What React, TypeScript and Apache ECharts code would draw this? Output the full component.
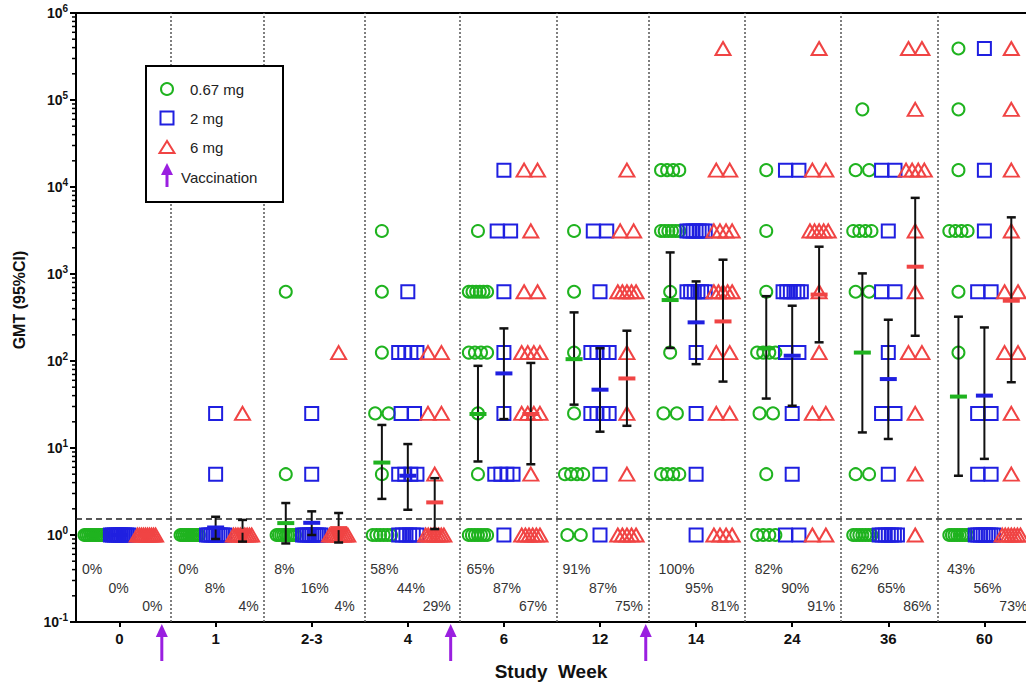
import React, { useEffect, useRef } from 'react';
import * as echarts from 'echarts';

// ---------- data ----------
const weeks = ['0', '1', '2-3', '4', '6', '12', '14', '24', '36', '60'];
const titerLevels = [1, 5, 25, 125, 625, 3125, 15625, 78125, 390625];
const doses = ['0.67 mg', '2 mg', '6 mg'];

// number of subjects at each titer level (order of titerLevels), per week
const countsLow = [
  [10, 0, 0, 0, 0, 0, 0, 0, 0],
  [10, 0, 0, 0, 0, 0, 0, 0, 0],
  [9, 1, 0, 0, 1, 0, 0, 0, 0],
  [6, 1, 2, 1, 1, 1, 0, 0, 0],
  [7, 1, 1, 4, 6, 1, 0, 0, 0],
  [2, 4, 1, 1, 1, 1, 0, 0, 0],
  [0, 4, 2, 1, 1, 6, 4, 0, 0],
  [4, 1, 2, 4, 1, 1, 1, 0, 0],
  [7, 2, 0, 0, 2, 4, 2, 1, 0],
  [8, 0, 0, 1, 1, 4, 1, 1, 1],
];
const countsMid = [
  [10, 0, 0, 0, 0, 0, 0, 0, 0],
  [9, 1, 1, 0, 0, 0, 0, 0, 0],
  [9, 1, 1, 0, 0, 0, 0, 0, 0],
  [6, 4, 2, 4, 1, 0, 0, 0, 0],
  [1, 4, 1, 1, 1, 2, 1, 0, 0],
  [1, 1, 4, 4, 1, 2, 0, 0, 0],
  [1, 1, 1, 1, 6, 7, 0, 0, 0],
  [2, 1, 1, 2, 6, 0, 2, 0, 0],
  [7, 1, 2, 1, 2, 1, 2, 0, 0],
  [8, 2, 2, 0, 2, 1, 1, 0, 1],
];
const countsHigh = [
  [10, 0, 0, 0, 0, 0, 0, 0, 0],
  [9, 0, 1, 0, 0, 0, 0, 0, 0],
  [9, 0, 0, 1, 0, 0, 0, 0, 0],
  [8, 1, 2, 2, 0, 0, 0, 0, 0],
  [6, 1, 4, 4, 2, 1, 2, 0, 0],
  [5, 1, 1, 1, 5, 2, 1, 0, 0],
  [4, 0, 2, 2, 5, 4, 2, 0, 1],
  [2, 0, 2, 1, 1, 5, 2, 0, 1],
  [1, 1, 1, 2, 1, 1, 4, 1, 2],
  [7, 1, 1, 2, 2, 1, 1, 1, 1],
];

// GMT and 95% CI
const gmtLow = [1, 1, 1.37, 6.8, 24.6, 105, 502, 140, 125, 39];
const ciLowLo = [1, 1, 0.8, 2.6, 7.0, 31.5, 141, 37, 15.1, 4.8];
const ciLowHi = [1, 1, 2.33, 18.4, 88, 362, 1770, 556, 1016, 323];
const gmtMid = [1, 1.22, 1.38, 4.8, 72, 46.8, 278, 115, 62, 40];
const ciMidLo = [1, 0.9, 1.0, 1.95, 21.5, 15.4, 92, 30.6, 12.7, 7.5];
const ciMidHi = [1, 1.62, 1.87, 11.1, 237, 140, 822, 432, 298, 243];
const gmtHigh = [1, 1.12, 1.2, 2.37, 24.6, 63, 285, 580, 1213, 493];
const ciHighLo = [1, 0.84, 0.82, 1.17, 6.5, 18, 58, 164, 195, 57];
const ciHighHi = [1, 1.49, 1.79, 4.5, 95, 223, 1460, 2060, 7500, 4480];

// responder percentages
const pctLow = ['0%', '0%', '8%', '58%', '65%', '91%', '100%', '82%', '62%', '43%'];
const pctMid = ['0%', '8%', '16%', '44%', '87%', '87%', '95%', '90%', '65%', '56%'];
const pctHigh = ['0%', '4%', '4%', '29%', '67%', '75%', '81%', '91%', '86%', '73%'];

const lloq = 1.54;
const vaccinationAt = [0.44, 3.446, 5.476];
const separators = [0.525, 1.504, 2.549, 3.536, 4.553, 5.51, 6.509, 7.508, 8.514];

// ---------- styling / layout ----------
const colors = ['#1fb31f', '#1f1fe0', '#f04444'];
const purple = '#9a1fe0';
const FONT = '"Liberation Sans", Arial, Helvetica, sans-serif';
const X_MIN = -0.453;
const X_MAX = 9.433;
const Y_MIN = 0.1;
const Y_MAX = 1e6;
const groupOffset = [-0.27, 0, 0.28];

function buildPoints(counts: number[][], g: number) {
  const pts: number[][] = [];
  counts.forEach((row, wi) => {
    row.forEach((n, li) => {
      if (!n) return;
      const range = Math.min((n - 1) * 0.14, 0.19);
      for (let i = 0; i < n; i++) {
        const off = n > 1 ? -range / 2 + (i * range) / (n - 1) : 0;
        pts.push([wi + groupOffset[g] + off, titerLevels[li]]);
      }
    });
  });
  return pts;
}

export default function App() {
  const ref = useRef<HTMLDivElement>(null);
  useEffect(() => {
    const chart = echarts.init(ref.current!, undefined, { renderer: 'svg' });

    const countsAll = [countsLow, countsMid, countsHigh];
    const gmts = [gmtLow, gmtMid, gmtHigh];
    const los = [ciLowLo, ciMidLo, ciHighLo];
    const his = [ciLowHi, ciMidHi, ciHighHi];
    const pcts = [pctLow, pctMid, pctHigh];
    const symbols = ['circle', 'rect', 'triangle'];
    const sizes: any[] = [12, 13, [15, 13]];

    const scatterSeries = countsAll.map((c, g) => ({
      type: 'scatter',
      name: doses[g],
      data: buildPoints(c, g),
      symbol: symbols[g],
      symbolSize: sizes[g],
      itemStyle: { color: 'rgba(0,0,0,0)', borderColor: colors[g], borderWidth: 2, opacity: 1 },
      silent: true,
      z: 3,
    }));

    const errSeries = gmts.map((_, g) => ({
      type: 'custom',
      data: weeks
        .map((_w, wi) => [wi + groupOffset[g], los[g][wi], his[g][wi]])
        .filter((d) => d[2] > d[1]),
      encode: { x: 0, y: [1, 2] },
      silent: true,
      clip: false,
      z: 5,
      renderItem: (params: any, api: any) => {
        const x = api.value(0);
        const pLo = api.coord([x, api.value(1)]);
        const pHi = api.coord([x, api.value(2)]);
        const st = { stroke: '#111', lineWidth: 2 };
        const cw = 4.5;
        return {
          type: 'group',
          children: [
            { type: 'line', shape: { x1: pLo[0], y1: pLo[1], x2: pHi[0], y2: pHi[1] }, style: st },
            { type: 'line', shape: { x1: pLo[0] - cw, y1: pLo[1], x2: pLo[0] + cw, y2: pLo[1] }, style: { ...st, lineWidth: 2.5 } },
            { type: 'line', shape: { x1: pHi[0] - cw, y1: pHi[1], x2: pHi[0] + cw, y2: pHi[1] }, style: { ...st, lineWidth: 2.5 } },
          ],
        };
      },
    }));

    const gmtSeries = gmts.map((arr, g) => ({
      type: 'custom',
      data: arr.map((v, wi) => [wi + groupOffset[g], v]),
      encode: { x: 0, y: 1 },
      silent: true,
      clip: false,
      z: 6,
      renderItem: (params: any, api: any) => {
        const p = api.coord([api.value(0), api.value(1)]);
        return { type: 'rect', shape: { x: p[0] - 8.5, y: p[1] - 2, width: 17, height: 4 }, style: { fill: colors[g] } };
      },
    }));

    const pctPlace = [
      { dx: -37.5, dy: 52.7, align: 'left' },
      { dx: -11, dy: 34.5, align: 'left' },
      { dx: 43, dy: 15.7, align: 'right' },
    ];
    const pctSeries = pcts.map((arr, g) => ({
      type: 'custom',
      data: arr.map((_t, wi) => [wi, Y_MIN]),
      encode: { x: 0, y: 1 },
      silent: true,
      clip: false,
      z: 4,
      renderItem: (params: any, api: any) => {
        const p = api.coord([api.value(0), api.value(1)]);
        return {
          type: 'text',
          x: p[0] + pctPlace[g].dx,
          y: p[1] - pctPlace[g].dy,
          style: {
            text: arr[params.dataIndex],
            fill: '#333',
            fontSize: 14,
            fontFamily: FONT,
            align: pctPlace[g].align,
            verticalAlign: 'middle',
          },
        };
      },
    }));

    const minorVals: number[] = [];
    for (let k = -1; k < 6; k++) for (let m = 2; m <= 9; m++) minorVals.push(m * Math.pow(10, k));
    const minorTickSeries = {
      type: 'custom',
      data: minorVals.map((v) => [X_MIN, v]),
      encode: { x: 0, y: 1 },
      silent: true,
      clip: false,
      z: 7,
      renderItem: (params: any, api: any) => {
        const p = api.coord([api.value(0), api.value(1)]);
        return { type: 'line', shape: { x1: p[0] - 4, y1: p[1], x2: p[0], y2: p[1] }, style: { stroke: '#000', lineWidth: 1.5 } };
      },
    };

    const arrowSeries = {
      type: 'custom',
      data: vaccinationAt.map((x) => [x, Y_MIN]),
      encode: { x: 0, y: 1 },
      silent: true,
      clip: false,
      z: 7,
      renderItem: (params: any, api: any) => {
        const p = api.coord([api.value(0), api.value(1)]);
        const tip = p[1] + 2;
        return {
          type: 'group',
          children: [
            { type: 'rect', shape: { x: p[0] - 1.5, y: tip + 11, width: 3, height: 26 }, style: { fill: purple } },
            { type: 'polygon', shape: { points: [[p[0], tip], [p[0] - 6, tip + 13], [p[0] + 6, tip + 13]] }, style: { fill: purple } },
          ],
        };
      },
    };

    const guideSeries = {
      type: 'scatter',
      data: [],
      silent: true,
      z: 1,
      markLine: {
        silent: true,
        symbol: ['none', 'none'],
        label: { show: false },
        animation: false,
        data: [
          ...separators.map((x) => ({ xAxis: x, lineStyle: { type: [2, 2], color: '#555', width: 1.5 } })),
          { yAxis: lloq, lineStyle: { type: [6, 4], color: '#222', width: 1.6 } },
        ],
      },
    };

    const legendX = 146, legendY = 66;
    const legendGraphic = [
      { type: 'rect', shape: { x: legendX, y: legendY, width: 137, height: 136 }, style: { fill: '#fff', stroke: '#000', lineWidth: 2 }, z: 100 },
      { type: 'circle', shape: { cx: 167, cy: 89, r: 6 }, style: { fill: 'none', stroke: colors[0], lineWidth: 2 }, z: 101 },
      { type: 'rect', shape: { x: 160.5, y: 111.5, width: 13, height: 13 }, style: { fill: 'none', stroke: colors[1], lineWidth: 2 }, z: 101 },
      { type: 'polygon', shape: { points: [[167, 141], [159.5, 153], [174.5, 153]] }, style: { fill: 'none', stroke: colors[2], lineWidth: 2 }, z: 101 },
      { type: 'rect', shape: { x: 165.5, y: 173, width: 3, height: 14 }, style: { fill: purple }, z: 101 },
      { type: 'polygon', shape: { points: [[167, 163], [161, 175], [173, 175]] }, style: { fill: purple }, z: 101 },
      ...[
        { t: doses[0], x: 190, y: 89 },
        { t: doses[1], x: 190, y: 118 },
        { t: doses[2], x: 190, y: 147 },
        { t: 'Vaccination', x: 181, y: 177 },
      ].map((d) => ({
        type: 'text',
        x: d.x,
        y: d.y,
        z: 101,
        style: { text: d.t, fill: '#222', fontSize: 15, fontFamily: FONT, align: 'left', verticalAlign: 'middle' },
      })),
      {
        type: 'text',
        x: 19,
        y: 300,
        rotation: Math.PI / 2,
        z: 101,
        style: { text: 'GMT (95%CI)', fill: '#111', fontSize: 16, fontWeight: 'bold', fontFamily: FONT, align: 'center', verticalAlign: 'middle' },
      },
    ];

    const option: any = {
      animation: false,
      backgroundColor: '#fff',
      textStyle: { fontFamily: FONT },
      grid: { left: 76, right: 0, top: 13, bottom: 63, containLabel: false, outerBoundsMode: 'none' },
      xAxis: [
        {
          type: 'value',
          min: X_MIN,
          max: X_MAX,
          name: 'Study  Week',
          nameLocation: 'middle',
          nameGap: 40,
          nameTextStyle: { fontSize: 19, fontWeight: 'bold', color: '#111', fontFamily: FONT },
          axisLine: { show: true, onZero: false, lineStyle: { color: '#000', width: 2 } },
          axisTick: { show: true, length: 5, lineStyle: { color: '#000', width: 2 }, customValues: weeks.map((_w, i) => i) },
          axisLabel: {
            show: true,
            margin: 9,
            fontSize: 15,
            fontWeight: 'bold',
            color: '#111',
            fontFamily: FONT,
            customValues: weeks.map((_w, i) => i),
            formatter: (v: number) => weeks[Math.round(v)] ?? '',
          },
          splitLine: { show: false },
        },
        {
          type: 'value',
          position: 'top',
          min: X_MIN,
          max: X_MAX,
          axisLine: { show: true, onZero: false, lineStyle: { color: '#000', width: 2 } },
          axisTick: { show: false },
          axisLabel: { show: false },
          splitLine: { show: false },
        },
      ],
      yAxis: {
        type: 'log',
        logBase: 10,
        min: Y_MIN,
        max: Y_MAX,
        interval: 1,
        axisLine: { show: true, onZero: false, lineStyle: { color: '#000', width: 2 } },
        axisTick: { show: true, length: 6, lineStyle: { color: '#000', width: 2 } },
        splitLine: { show: false },
        axisLabel: {
          margin: 8,
          formatter: (v: number) => `{b|10}{s|${Math.round(Math.log10(v))}}`,
          rich: {
            b: { fontSize: 14, fontWeight: 'bold', color: '#111', fontFamily: FONT, lineHeight: 22, verticalAlign: 'middle' },
            s: { fontSize: 10, fontWeight: 'bold', color: '#111', fontFamily: FONT, lineHeight: 10, verticalAlign: 'top', padding: [1, 0, 0, 0] },
          },
        },
      },
      graphic: legendGraphic,
      series: [guideSeries, ...scatterSeries, ...errSeries, ...gmtSeries, ...pctSeries, minorTickSeries, arrowSeries],
    };

    chart.setOption(option);
    return () => chart.dispose();
  }, []);

  return <div ref={ref} style={{ position: 'fixed', left: 0, top: 0, width: 1026, height: 685 }} />;
}
